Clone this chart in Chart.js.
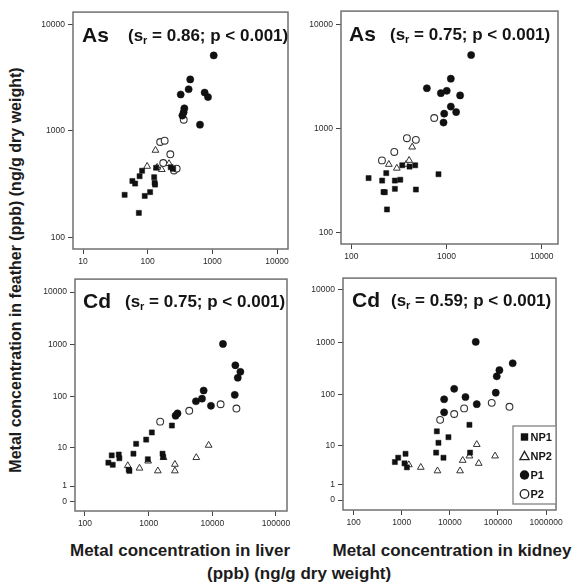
<!DOCTYPE html>
<html>
<head>
<meta charset="utf-8">
<script src="https://cdn.jsdelivr.net/npm/chart.js@4.4.0/dist/chart.umd.min.js"></script>
<style>
  html, body { margin: 0; padding: 0; background: #fff; width: 580px; height: 585px; overflow: hidden; }
  body { position: relative; }
  .lbl { position: absolute; font-family: "Liberation Sans", Arial, Helvetica, sans-serif; font-weight: bold;
         color: #1c1c1c; white-space: nowrap; text-align: center; }
</style>
</head>
<body>
<div class="lbl" id="ytitle">Metal concentration in feather (ppb) (ng/g dry weight)</div>
<div class="lbl" id="xliver">Metal concentration in liver</div>
<div class="lbl" id="xkidney">Metal concentration in kidney</div>
<div class="lbl" id="xunits">(ppb) (ng/g dry weight)</div>
<script>
// ---- series names (legend order) ----
const seriesNames = ['NP1', 'NP2', 'P1', 'P2'];

// ---- As: feather vs liver, [liver, feather] in ppb ----
const asLiverNP1 = [[44,250],[58,337],[64,319],[75,374],[82,421],[73,169],[90,244],[109,265],[126,366],[128,324],[130,312],[135,449],[227,454],[248,439]];
const asLiverNP2 = [[98,463],[132,655],[165,432],[214,491],[140,453]];
const asLiverP1  = [[1050,5100],[455,3035],[430,2455],[324,2190],[760,2285],[857,2070],[369,1625],[360,1493],[344,1390],[644,1140]];
const asLiverP2  = [[361,1268],[156,784],[183,806],[224,601],[174,497],[255,423],[281,441]];

// ---- As: feather vs kidney ----
const asKidneyNP1 = [[152,336],[211,318],[233,375],[218,247],[225,246],[237,168],[287,318],[287,265],[327,324],[477,261],[824,366],[343,446],[409,433],[469,446]];
const asKidneyNP2 = [[248,455],[301,418],[377,455],[405,497],[436,667]];
const asKidneyP1  = [[1815,5100],[1110,3020],[622,2447],[873,2196],[1006,2311],[1390,2088],[1110,1633],[1262,1445],[946,1394],[931,1147]];
const asKidneyP2  = [[743,1268],[384,811],[477,782],[283,599],[210,497]];

// ---- Cd: feather vs liver ----
const cdLiverNP1 = [[233,4.6],[273,4.1],[263,6.7],[339,7.0],[347,5.8],[487,3.1],[499,2.9],[577,7.3],[636,11.8],[914,14.4],[1122,20.1],[970,5.5],[1652,7.3],[1692,6.2],[2318,27.6]];
const cdLiverNP2 = [[470,3.9],[718,3.4],[982,5.0],[1393,2.9],[1714,6.0],[2583,4.2],[2583,2.9],[5600,6.0],[8750,11.0]];
const cdLiverP1  = [[2650,43],[2840,47.6],[5530,82],[6880,92],[7310,132],[9520,67],[14700,1027],[22500,109],[23000,402],[25100,232],[27600,301]];
const cdLiverP2  = [[1517,32.9],[4340,53.6],[13500,71.8],[23900,59.3]];

// ---- Cd: feather vs kidney ----
const cdKidneyNP1 = [[721,4.3],[845,5.4],[1200,6.6],[1143,4.0],[1280,3.2],[5360,19.3],[5800,11.3],[5190,7.0],[7370,5.4],[9350,14.7],[25500,26],[26300,7.0]];
const cdKidneyNP2 = [[1406,3.7],[2490,3.2],[5530,2.6],[16300,2.6],[18500,4.7],[25500,5.9],[36200,10.4],[39800,4.0],[86900,5.9]];
const cdKidneyP1  = [[34500,1013],[202000,398],[107000,294],[94200,224],[89800,109],[12300,129],[21100,90],[7600,81.5],[36200,65.6],[7600,45.5]];
const cdKidneyP2  = [[6280,32.5],[12300,42.3],[19800,54.3],[74100,69.5],[173000,58.3]];

// ---- axis ticks ----
const asLiverTicks   = [10, 100, 1000, 10000];
const asKidneyTicks  = [100, 1000, 10000];
const cdLiverTicks   = [100, 1000, 10000, 100000];
const cdKidneyTicks  = [100, 1000, 10000, 100000, 1000000];
const asFeatherTicks = [100, 1000, 10000];
const cdFeatherTicks = [0, 1, 10, 100, 1000, 10000];

// ---- Spearman coefficients shown in the panel headers ----
const panelElements = ['As', 'As', 'Cd', 'Cd'];
const spearmanR = ['0.86', '0.75', '0.75', '0.59'];

const FONT = '"Liberation Sans", Arial, Helvetica, sans-serif';
const INK = '#111';

// marker look for each series
const markerStyles = [
  { pointStyle: 'rect',     pointRadius: 3.6, backgroundColor: INK,    borderColor: INK,    borderWidth: 0.5 },
  { pointStyle: 'triangle', pointRadius: 3.9, backgroundColor: '#fff', borderColor: '#333', borderWidth: 1 },
  { pointStyle: 'circle',   pointRadius: 3.6, backgroundColor: INK,    borderColor: INK,    borderWidth: 0.5 },
  { pointStyle: 'circle',   pointRadius: 3.4, backgroundColor: '#fff', borderColor: '#333', borderWidth: 1.1 }
];

// feather axis for Cd uses log10(value + 1) so that zero can be shown
const shiftLog = v => Math.log10(v + 1);

// frame box around the plotting area
const framePlugin = {
  id: 'frameBox',
  afterDatasetsDraw(chart) {
    const a = chart.chartArea, ctx = chart.ctx;
    ctx.save();
    ctx.strokeStyle = '#707070';
    ctx.lineWidth = 1.5;
    ctx.strokeRect(a.left, a.top, a.right - a.left, a.bottom - a.top);
    ctx.restore();
  }
};

// element symbol + Spearman statistic in the top left of each panel
const headerPlugin = {
  id: 'panelHeader',
  afterDraw(chart, args, o) {
    if (!o || !o.element) return;
    const a = chart.chartArea, ctx = chart.ctx;
    ctx.save();
    ctx.fillStyle = '#141414';
    ctx.textBaseline = 'alphabetic';
    ctx.textAlign = 'left';
    ctx.font = 'bold 21px ' + FONT;
    ctx.fillText(o.element, a.left + o.dxElement, a.top + o.dy);
    let x = a.left + o.dxStat;
    const y = a.top + o.dy - 1;
    ctx.font = 'bold 17px ' + FONT;
    ctx.fillText('(s', x, y);
    x += ctx.measureText('(s').width;
    ctx.font = 'bold 11px ' + FONT;
    ctx.fillText('r', x, y + 3);
    x += ctx.measureText('r').width;
    ctx.font = 'bold 17px ' + FONT;
    ctx.fillText(' = ' + o.r + '; p < 0.001)', x, y);
    ctx.restore();
  }
};

// boxed legend inside the lower right corner of the plot
const boxLegendPlugin = {
  id: 'boxLegend',
  afterDraw(chart, args, o) {
    if (!o || !o.show) return;
    const a = chart.chartArea, ctx = chart.ctx;
    const w = 43, h = 78;
    const x0 = a.right - w, y0 = a.bottom - 6 - h;
    ctx.save();
    ctx.fillStyle = '#fff';
    ctx.fillRect(x0, y0, w, h);
    ctx.strokeStyle = '#8a8a8a';
    ctx.lineWidth = 1.4;
    ctx.strokeRect(x0, y0, w, h);
    ctx.font = 'bold 11px ' + FONT;
    ctx.textBaseline = 'middle';
    ctx.textAlign = 'left';
    chart.data.datasets.forEach((ds, i) => {
      const cy = y0 + 11 + i * 19;
      const cx = x0 + 11.5;
      ctx.beginPath();
      if (i === 0) {
        ctx.fillStyle = INK;
        ctx.fillRect(cx - 3.7, cy - 3.7, 7.4, 7.4);
      } else if (i === 1) {
        ctx.moveTo(cx, cy - 4.6);
        ctx.lineTo(cx + 4.6, cy + 3.6);
        ctx.lineTo(cx - 4.6, cy + 3.6);
        ctx.closePath();
        ctx.lineWidth = 1.3; ctx.strokeStyle = '#222'; ctx.stroke();
      } else if (i === 2) {
        ctx.arc(cx, cy, 4.7, 0, Math.PI * 2);
        ctx.fillStyle = INK; ctx.fill();
      } else {
        ctx.arc(cx, cy, 4.3, 0, Math.PI * 2);
        ctx.lineWidth = 1.3; ctx.strokeStyle = '#222'; ctx.stroke();
      }
      ctx.fillStyle = '#141414';
      ctx.fillText(ds.label, cx + 6, cy + 0.5);
    });
    ctx.restore();
  }
};

// panel layout: frame = [left, top, right, bottom] of the plot box on the page
const panels = [
  { frame: [73, 8, 288, 249],  series: [asLiverNP1, asLiverNP2, asLiverP1, asLiverP2],
    xr: [7.0, 14790], xt: asLiverTicks, yShift: false, yr: [77.4, 13030], yt: asFeatherTicks,
    head: { dxElement: 9, dxStat: 55, dy: 30 }, legend: false },
  { frame: [341, 7, 558, 244], series: [asKidneyNP1, asKidneyNP2, asKidneyP1, asKidneyP2],
    xr: [78, 14825], xt: asKidneyTicks, yShift: false, yr: [78.3, 13460], yt: asFeatherTicks,
    head: { dxElement: 8, dxStat: 49, dy: 30 }, legend: false },
  { frame: [75, 275, 287, 511], series: [cdLiverNP1, cdLiverNP2, cdLiverP1, cdLiverP2],
    xr: [69.7, 148900], xt: cdLiverTicks, yShift: true, yr: [-0.174, 4.249], yt: cdFeatherTicks,
    head: { dxElement: 8, dxStat: 50, dy: 29 }, legend: false },
  { frame: [343, 274, 556, 510], series: [cdKidneyNP1, cdKidneyNP2, cdKidneyP1, cdKidneyP2],
    xr: [60.3, 1603000], xt: cdKidneyTicks, yShift: true, yr: [-0.187, 4.218], yt: cdFeatherTicks,
    head: { dxElement: 9, dxStat: 48, dy: 29 }, legend: true }
];

const PAD_L = 4, PAD_T = 4, PAD_R = 12, Y_W = 40, X_H = 26;
const tickFont = { family: FONT, size: 8.5 };
const tickColor = '#2a2a2a';

panels.forEach((p, idx) => {
  const [L, T, R, B] = p.frame;
  const w = R - L + PAD_L + Y_W + PAD_R;
  const h = B - T + PAD_T + X_H;
  const cv = document.createElement('canvas');
  cv.width = w; cv.height = h;
  cv.style.cssText = `position:absolute;left:${L - Y_W - PAD_L}px;top:${T - PAD_T}px;width:${w}px;height:${h}px;`;
  document.body.appendChild(cv);

  const toY = p.yShift ? shiftLog : (v => v);
  const datasets = seriesNames.map((name, i) => Object.assign({
    label: name,
    data: p.series[i].map(([x, y]) => ({ x: x, y: toY(y) })),
    showLine: false
  }, markerStyles[i]));

  const gridOpts = { display: true, drawOnChartArea: false, drawTicks: true, tickLength: 5, color: '#444', lineWidth: 1 };

  new Chart(cv, {
    type: 'scatter',
    data: { datasets },
    options: {
      responsive: false,
      animation: false,
      events: [],
      layout: { padding: { left: PAD_L, top: PAD_T, right: PAD_R, bottom: 0 } },
      scales: {
        x: {
          type: 'logarithmic',
          min: p.xr[0], max: p.xr[1],
          border: { display: false },
          grid: gridOpts,
          ticks: { font: tickFont, color: tickColor, padding: 3, maxRotation: 0, autoSkip: false,
                   callback: v => String(v) },
          afterBuildTicks: s => { s.ticks = p.xt.map(v => ({ value: v })); },
          afterFit: s => { s.height = X_H; }
        },
        y: {
          type: p.yShift ? 'linear' : 'logarithmic',
          min: p.yr[0], max: p.yr[1],
          border: { display: false },
          grid: gridOpts,
          ticks: { font: tickFont, color: tickColor, padding: 3, autoSkip: false,
                   callback: v => p.yShift ? String(Math.round(Math.pow(10, v) - 1)) : String(v) },
          afterBuildTicks: s => { s.ticks = p.yt.map(v => ({ value: toY(v) })); },
          afterFit: s => { s.width = Y_W; }
        }
      },
      plugins: {
        legend: { display: false },
        tooltip: { enabled: false },
        panelHeader: Object.assign({ element: panelElements[idx], r: spearmanR[idx] }, p.head),
        boxLegend: { show: p.legend }
      }
    },
    plugins: [framePlugin, headerPlugin, boxLegendPlugin]
  });
});

// axis titles
function place(id, cx, cy, size, rotate) {
  const el = document.getElementById(id);
  el.style.fontSize = size + 'px';
  el.style.lineHeight = size + 'px';
  const rw = el.offsetWidth;
  el.style.left = (cx - rw / 2) + 'px';
  el.style.top = (cy - size / 2) + 'px';
  if (rotate) el.style.transform = 'rotate(-90deg)';
}
place('ytitle', 15, 270, 16, true);
place('xliver', 180, 550, 17, false);
place('xkidney', 452, 550, 17, false);
place('xunits', 299, 573, 17, false);
</script>
</body>
</html>
